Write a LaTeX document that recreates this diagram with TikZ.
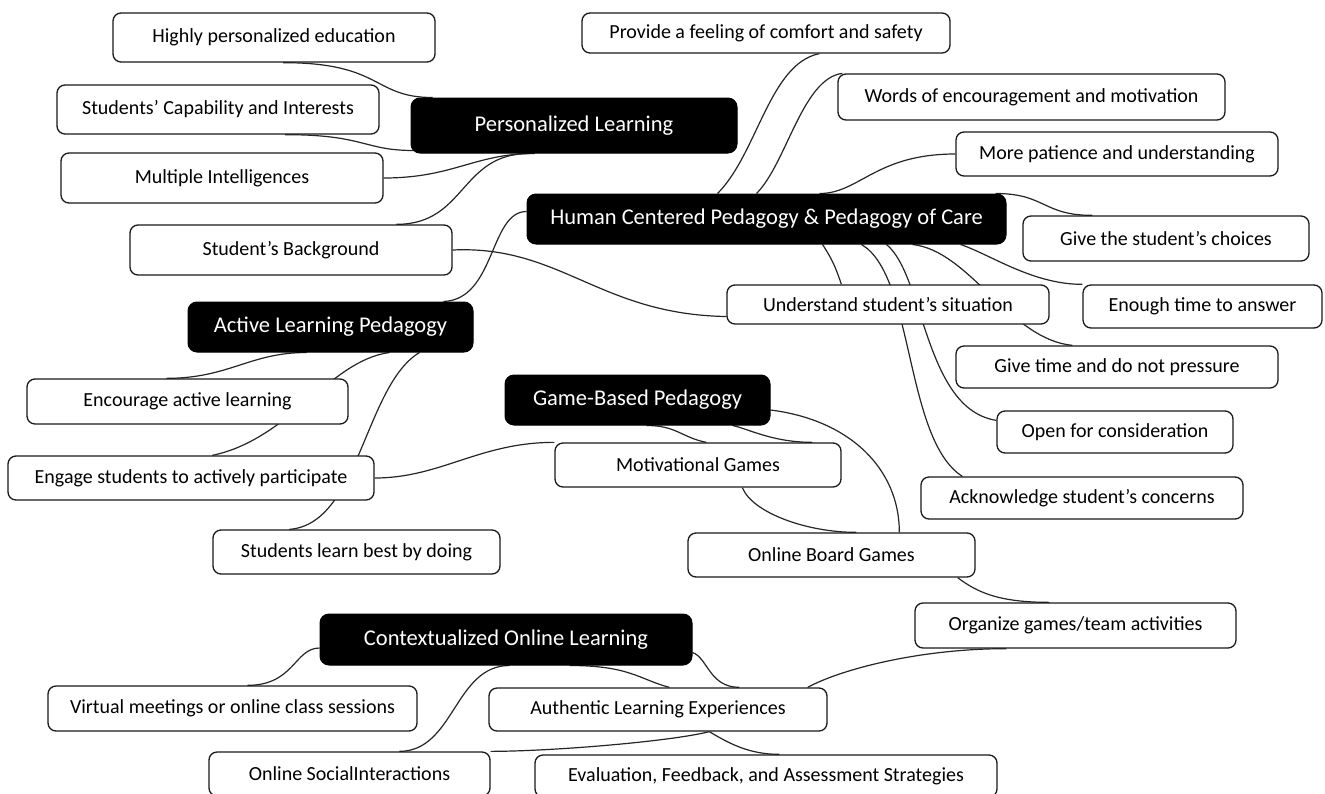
\documentclass[tikz,border=0pt]{standalone}
\usepackage{fontspec}
\setmainfont{Carlito}
\usetikzlibrary{backgrounds}
\begin{document}
\begin{tikzpicture}[x=1pt,y=-1pt,
  wbox/.style={draw=black!90, line width=1.3pt, fill=white, rounded corners=8pt, inner sep=0pt, font=\fontsize{20}{24}\selectfont},
  bbox/.style={draw=black, line width=1pt, fill=black, text=white, rounded corners=9pt, inner sep=0pt, font=\fontsize{22.5}{26}\selectfont},
  conn/.style={draw=black!85, line width=1.2pt}]
\useasboundingbox (0,0) rectangle (1325,793);
% nodes
\node[wbox, minimum width=322pt, minimum height=49pt] (hp) at (274,37.5) {Highly personalized education};
\node[wbox, minimum width=322pt, minimum height=49pt] (sc) at (218,109.5) {Students’ Capability and Interests};
\node[wbox, minimum width=322pt, minimum height=50pt] (mi) at (222,178) {Multiple Intelligences};
\node[wbox, minimum width=322pt, minimum height=50pt] (sb) at (291,250) {Student’s Background};
\node[bbox, minimum width=326pt, minimum height=55pt] (pl) at (574,125.5) {Personalized Learning};
\node[wbox, minimum width=368pt, minimum height=40pt] (pf) at (766,33) {Provide a feeling of comfort and safety};
\node[wbox, minimum width=387pt, minimum height=46pt] (we) at (1031.5,97) {Words of encouragement and motivation};
\node[wbox, minimum width=322pt, minimum height=44pt] (mp) at (1117,154) {More patience and understanding};
\node[bbox, minimum width=479pt, minimum height=50pt] (hc) at (766.5,219) {Human Centered Pedagogy \& Pedagogy of Care};
\node[wbox, minimum width=286pt, minimum height=45pt] (gc) at (1166,238.5) {Give the student’s choices};
\node[wbox, minimum width=239pt, minimum height=43pt] (et) at (1202.5,306.5) {Enough time to answer};
\node[wbox, minimum width=322pt, minimum height=39pt] (us) at (888,304.5) {Understand student’s situation};
\node[wbox, minimum width=322pt, minimum height=42pt] (gt) at (1117,367) {Give time and do not pressure};
\node[wbox, minimum width=236pt, minimum height=42pt] (oc) at (1115,432) {Open for consideration};
\node[wbox, minimum width=322pt, minimum height=42pt] (ac) at (1082,498) {Acknowledge student’s concerns};
\node[bbox, minimum width=285pt, minimum height=50pt] (alp) at (330.5,327) {Active Learning Pedagogy};
\node[wbox, minimum width=321pt, minimum height=45pt] (ea) at (187.5,401.5) {Encourage active learning};
\node[wbox, minimum width=366pt, minimum height=44pt] (es) at (191,478) {Engage students to actively participate};
\node[wbox, minimum width=287pt, minimum height=44pt] (sl) at (356.5,552) {Students learn best by doing};
\node[bbox, minimum width=265pt, minimum height=50pt] (gb) at (637.5,400) {Game-Based Pedagogy};
\node[wbox, minimum width=286pt, minimum height=44pt] (mg) at (698,465) {Motivational Games};
\node[wbox, minimum width=287pt, minimum height=44pt] (ob) at (831.5,555) {Online Board Games};
\node[wbox, minimum width=321pt, minimum height=45pt] (og) at (1075.5,625.5) {Organize games/team activities};
\node[bbox, minimum width=372pt, minimum height=51pt] (col) at (506,639.5) {Contextualized Online Learning};
\node[wbox, minimum width=369pt, minimum height=45pt] (vm) at (232.5,708.5) {Virtual meetings or online class sessions};
\node[wbox, minimum width=338pt, minimum height=43pt] (ale) at (658,709.5) {Authentic Learning Experiences};
\node[wbox, minimum width=281pt, minimum height=44pt] (osi) at (349.5,774) {Online SocialInteractions};
\node[wbox, minimum width=462pt, minimum height=42pt] (ev) at (766,776) {Evaluation, Feedback, and Assessment Strategies};
% connectors
\begin{pgfonlayer}{background}
\fill[white] (0,0) rectangle (1325,793);
\draw[conn] ([xshift=9pt]hp.south) .. controls +(100,0) and +(-60,0) .. ([xshift=22pt]pl.north west);
\draw[conn] ([xshift=67pt]sc.south) .. controls +(80,0) and +(-50,0) .. ([xshift=3pt,yshift=3pt]pl.south west);
\draw[conn] (mi.east) .. controls +(70,0) and +(-60,0) .. ([xshift=124pt]pl.south west);
\draw[conn] ([xshift=267pt]sb.north west) .. controls +(70,0) and +(-70,0) .. ([xshift=119pt]pl.south west);
\draw[conn] ([xshift=191pt]hc.north west) .. controls +(40,-40) and +(-50,10) .. ([xshift=238pt]pf.south west);
\draw[conn] ([xshift=230pt]hc.north west) .. controls +(30,-30) and +(-40,5) .. ([xshift=5pt]we.north west);
\draw[conn] ([xshift=293pt]hc.north west) .. controls +(40,0) and +(-80,0) .. (mp.west);
\draw[conn] ([xshift=-11pt]hc.north east) .. controls +(50,0) and +(-50,0) .. ([xshift=70pt]gc.north west);
\draw[conn] ([xshift=-46pt]hc.south east) .. controls +(30,10) and +(-50,0) .. (et.north west);
\draw[conn] ([xshift=296pt]hc.south west) .. controls +(10,15) and +(-5,-15) .. ([xshift=115pt]us.north west);
\draw[conn] ([xshift=335pt]hc.south west) .. controls +(53,31) and +(-58,-37) .. ([xshift=42pt]ac.north west);
\draw[conn] ([xshift=360pt]hc.south west) .. controls +(38,31) and +(-72,-11) .. ([yshift=-10pt]oc.north west);
\draw[conn] ([xshift=386pt]hc.south west) .. controls +(57,6) and +(-63,-6) .. ([xshift=117pt]gt.north west);
\draw[conn] ([yshift=-18pt]hc.north west) .. controls +(-37,0) and +(52,-2) .. ([xshift=-30pt]alp.north east);
\draw[conn] (sb.east) .. controls +(108,-5) and +(-127,-2) .. ([yshift=-12pt]us.west);
\draw[conn] ([xshift=119pt]alp.south west) .. controls +(-57,0) and +(63,0) .. ([xshift=140pt]ea.north west);
\draw[conn] ([xshift=202pt]alp.south west) .. controls +(-60,8) and +(77,-16) .. ([xshift=205pt]es.north west);
\draw[conn] ([xshift=232pt]alp.south west) .. controls +(-55,33) and +(70,-5) .. ([xshift=77pt]sl.north west);
\draw[conn] (es.east) .. controls +(66,0) and +(-75,0) .. (mg.north west);
\draw[conn] ([xshift=142pt]gb.south west) .. controls +(30,0) and +(-25,-5) .. ([xshift=152pt]mg.north west);
\draw[conn] ([xshift=228pt]gb.south west) .. controls +(15,3) and +(-40,0) .. ([xshift=258pt]mg.north west);
\draw[conn] ([xshift=188pt]mg.south west) .. controls +(10,25) and +(-50,0) .. ([xshift=169pt]ob.north west);
\draw[conn] ([yshift=-10pt]gb.east) .. controls +(80,10) and +(0,-63) .. ([xshift=212pt]ob.north west);
\draw[conn] ([xshift=-18pt]ob.south east) .. controls +(20,15) and +(-50,0) .. ([xshift=135pt]og.north west);
\draw[conn] ([xshift=92pt]og.south west) .. controls +(-87,0) and +(33,-18) .. ([xshift=-20pt]ale.north east);
\draw[conn] ([yshift=-8.5pt]col.west) .. controls +(-25,0) and +(47,0) .. ([xshift=200pt]vm.north west);
\draw[conn] ([xshift=190pt]col.south west) .. controls +(-55,0) and +(55,0) .. ([xshift=191pt]osi.north west);
\draw[conn] ([xshift=250pt]col.south west) .. controls +(60,0) and +(-30,-8) .. ([xshift=181pt]ale.north west);
\draw[conn] ([yshift=13pt]col.south east) .. controls +(15,5) and +(-30,0) .. ([xshift=251pt]ale.north west);
\draw[conn] ([xshift=221pt]ale.south west) .. controls +(20,12) and +(-30,0) .. ([xshift=245pt]ev.north west);
\draw[conn] ([xshift=221pt]ale.south west) .. controls +(-40,10) and +(60,0) .. (osi.north east);
\end{pgfonlayer}
\end{tikzpicture}
\end{document}
